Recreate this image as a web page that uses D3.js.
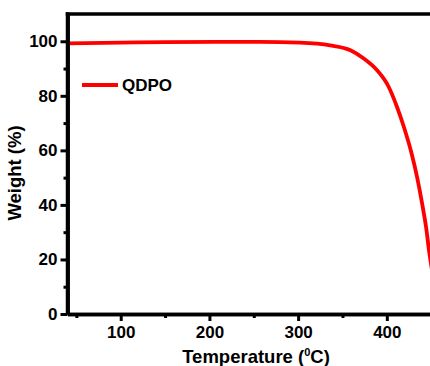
<!DOCTYPE html>
<html>
<head>
<meta charset="utf-8">
<script src="https://cdn.jsdelivr.net/npm/d3@7"></script>
<style>
  html, body { margin: 0; padding: 0; background: #fff; }
  svg { display: block; }
  text { font-family: Arial, "Liberation Sans", sans-serif; font-weight: bold; fill: #000; }
</style>
</head>
<body>
<svg id="chart" width="430" height="366"></svg>
<script>
// Data (TGA curve of QDPO)
const temperature = [40, 100, 150, 207, 257, 302, 336, 359, 374, 389, 401.6, 411.4, 419.6, 427.5, 434.3, 439.9, 444.4, 447.8, 450, 455.7, 465];
const weight      = [99.2, 99.5, 99.7, 99.8, 99.8, 99.5, 98.5, 96.7, 93.7, 89.4, 83.6, 76.0, 68.2, 59.4, 49.9, 40.3, 31.5, 22.7, 18, 8.8, 3];
const seriesName = "QDPO";
const xMajorTicks = [100, 200, 300, 400];
const xMinorTicks = [50, 150, 250, 350, 450];
const yMajorTicks = [0, 20, 40, 60, 80, 100];
const yMinorTicks = [10, 30, 50, 70, 90];
const xTitle = "Temperature (";
const yTitle = "Weight (%)";

const svg = d3.select("#chart");
const mLeft = 67.5, mTop = 14, mBottom = 314;
const x = d3.scaleLinear().domain([40, 470]).range([mLeft, mLeft + 430 * 0.887]);
const y = d3.scaleLinear().domain([0, 110]).range([mBottom, mTop]);

// data line
const line = d3.line().x((d, i) => x(temperature[i])).y((d, i) => y(weight[i])).curve(d3.curveMonotoneX);
svg.append("path").datum(weight)
  .attr("d", line).attr("fill", "none").attr("stroke", "#ff0000").attr("stroke-width", 3.8);

// axes
const gx = svg.append("g").attr("transform", `translate(0,${mBottom})`)
  .call(d3.axisBottom(x).tickValues(xMajorTicks).tickSize(7).tickSizeOuter(0).tickPadding(4));
const gxm = svg.append("g").attr("transform", `translate(0,${mBottom})`)
  .call(d3.axisBottom(x).tickValues(xMinorTicks).tickSize(4).tickSizeOuter(0).tickFormat(""));
const gy = svg.append("g").attr("transform", `translate(${mLeft},0)`)
  .call(d3.axisLeft(y).tickValues(yMajorTicks).tickSize(7).tickSizeOuter(0).tickPadding(3));
const gym = svg.append("g").attr("transform", `translate(${mLeft},0)`)
  .call(d3.axisLeft(y).tickValues(yMinorTicks).tickSize(4).tickSizeOuter(0).tickFormat(""));
[gx, gxm, gy, gym].forEach(g => {
  g.select(".domain").attr("stroke", "#000").attr("stroke-width", 3.5);
  g.selectAll(".tick line").attr("stroke", "#000").attr("stroke-width", 3);
  g.selectAll(".tick text").style("font-size", "17px").style("font-family", "Arial, 'Liberation Sans', sans-serif").style("font-weight", "bold");
});
gx.selectAll(".tick text").attr("dy", "0.75em");
// top axis line and left frame line
svg.append("line").attr("x1", mLeft - 1.75).attr("x2", x(470) + 10).attr("y1", mTop).attr("y2", mTop)
  .attr("stroke", "#000").attr("stroke-width", 3.5);
svg.append("line").attr("x1", mLeft).attr("x2", mLeft).attr("y1", mTop - 1.75).attr("y2", mBottom)
  .attr("stroke", "#000").attr("stroke-width", 3.5);

// legend
svg.append("line").attr("x1", 82).attr("x2", 118).attr("y1", 85).attr("y2", 85)
  .attr("stroke", "#ff0000").attr("stroke-width", 3.8);
svg.append("text").attr("x", 122).attr("y", 85).attr("dy", "0.36em")
  .style("font-size", "17px").text(seriesName);

// axis titles
const xt = svg.append("text").attr("x", 256).attr("y", 363).attr("text-anchor", "middle").style("font-size", "18.5px");
xt.append("tspan").text(xTitle);
xt.append("tspan").attr("dy", -7).style("font-size", "11px").text("0");
xt.append("tspan").attr("dy", 7).text("C)");

svg.append("text").attr("transform", "translate(21,173) rotate(-90)").attr("text-anchor", "middle")
  .style("font-size", "18.5px").text(yTitle);
</script>
</body>
</html>
